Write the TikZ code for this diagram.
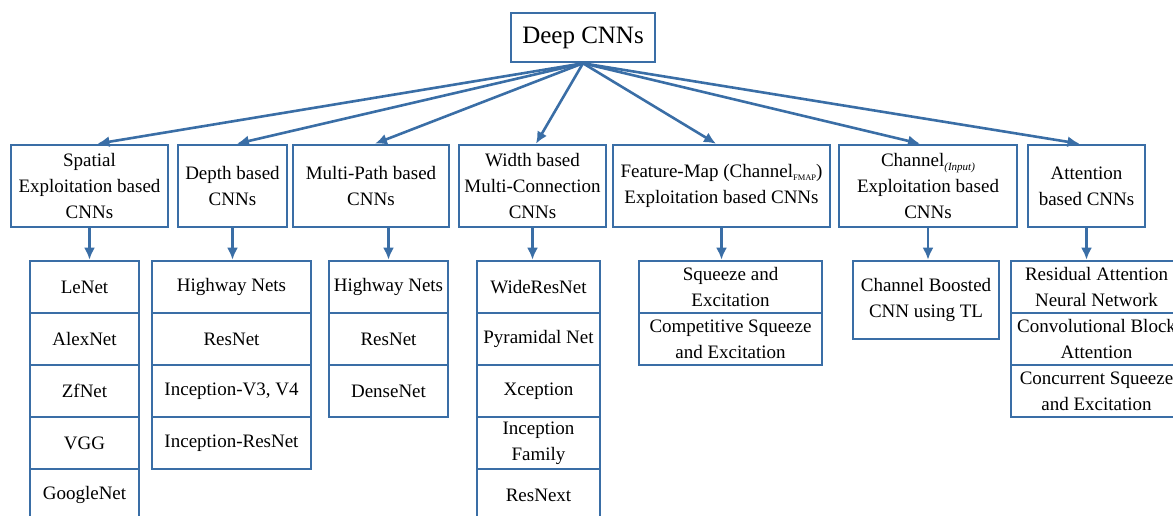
\documentclass[tikz,border=0pt]{standalone}
\usepackage{fontspec}
\setmainfont{Liberation Serif}
\usetikzlibrary{arrows.meta}
\definecolor{lineblue}{RGB}{58,110,166}
\tikzset{
  box/.style={draw=lineblue, line width=2.6pt, rectangle, align=center, inner sep=1pt,
    font=\fontsize{19}{26}\selectfont, text=black},
  arr/.style={draw=lineblue, line width=2.6pt, -{Latex[length=12pt,width=11pt]}},
}
\newcommand{\fmap}{\raisebox{-0.35ex}{\fontsize{8.5}{9}\selectfont FMAP}}
\newcommand{\inp}{\raisebox{-0.45ex}{\fontsize{11}{11}\selectfont\itshape (Input)}}
\begin{document}
\begin{tikzpicture}[x=1pt,y=-1pt]
\useasboundingbox (0,0) rectangle (1173,515);
% root
\node[box, minimum width=144pt, minimum height=49pt, font=\fontsize{25}{30}\selectfont] (root) at (583,37.5) {Deep CNNs};
% categories
\tikzset{cat/.style={box, minimum height=82pt}}
\node[cat, minimum width=157pt] (c1) at (89.5,186) {Spatial\\Exploitation based\\CNNs};
\node[cat, minimum width=109pt] (c2) at (232.5,186) {Depth based\\CNNs};
\node[cat, minimum width=156pt] (c3) at (371,186) {Multi-Path based\\CNNs};
\node[cat, minimum width=147pt] (c4) at (532.5,186) {Width based\\Multi-Connection\\CNNs};
\node[cat, minimum width=217pt] (c5) at (721.5,186) {Feature-Map (Channel\fmap)\\Exploitation based CNNs};
\node[cat, minimum width=178pt] (c6) at (928,186) {Channel\inp\\Exploitation based\\CNNs};
\node[cat, minimum width=117pt] (c7) at (1086.5,186) {Attention\\based CNNs};
% lists
\tikzset{row/.style={box, minimum height=52pt}}
\foreach \t [count=\i] in {LeNet,AlexNet,ZfNet,VGG,GoogleNet}
  \node[row, minimum width=109pt] (l1r\i) at (84.5,{235+52*\i}) {\t};
\foreach \t [count=\i] in {Highway Nets,ResNet,{Inception-V3, V4},Inception-ResNet}
  \node[row, minimum width=159pt] (l2r\i) at (231.5,{235+52*\i}) {\t};
\foreach \t [count=\i] in {Highway Nets,ResNet,DenseNet}
  \node[row, minimum width=119pt] (l3r\i) at (388.5,{235+52*\i}) {\t};
\foreach \t [count=\i] in {WideResNet,Pyramidal Net,Xception,{Inception\\Family},ResNext}
  \node[row, minimum width=123pt] (l4r\i) at (538.5,{235+52*\i}) {\t};
\foreach \t [count=\i] in {{Squeeze and\\Excitation},{Competitive Squeeze\\and Excitation}}
  \node[row, minimum width=183pt] (l5r\i) at (730.5,{235+52*\i}) {\t};
\node[box, minimum width=146pt, minimum height=78pt] (l6r1) at (926,300) {Channel Boosted\\CNN using TL};
\foreach \t [count=\i] in {{Residual Attention\\Neural Network},{Convolutional Block\\Attention},{Concurrent Squeeze\\and Excitation}}
  \node[row, minimum width=171pt] (l7r\i) at (1096.5,{235+52*\i}) {\t};
% arrows from root
\draw[arr] (root.south) -- ([xshift=8pt]c1.north);
\draw[arr] (root.south) -- ([xshift=4.5pt]c2.north);
\draw[arr] (root.south) -- ([xshift=4pt]c3.north);
\draw[arr] (root.south) -- ([xshift=3.5pt]c4.north);
\draw[arr] (root.south) -- ([xshift=-5.5pt]c5.north);
\draw[arr] (root.south) -- ([xshift=-8pt]c6.north);
\draw[arr] (root.south) -- ([xshift=-7pt]c7.north);
% arrows to lists
\draw[arr] (c1.south) -- (c1.south |- l1r1.north);
\draw[arr] (c2.south) -- (c2.south |- l2r1.north);
\draw[arr] (l3r1.north |- c3.south) -- (l3r1.north);
\draw[arr] (c4.south) -- (c4.south |- l4r1.north);
\draw[arr] (c5.south) -- (c5.south |- l5r1.north);
\draw[arr] (c6.south) -- (c6.south |- l6r1.north);
\draw[arr] (c7.south) -- (c7.south |- l7r1.north);
\end{tikzpicture}
\end{document}
